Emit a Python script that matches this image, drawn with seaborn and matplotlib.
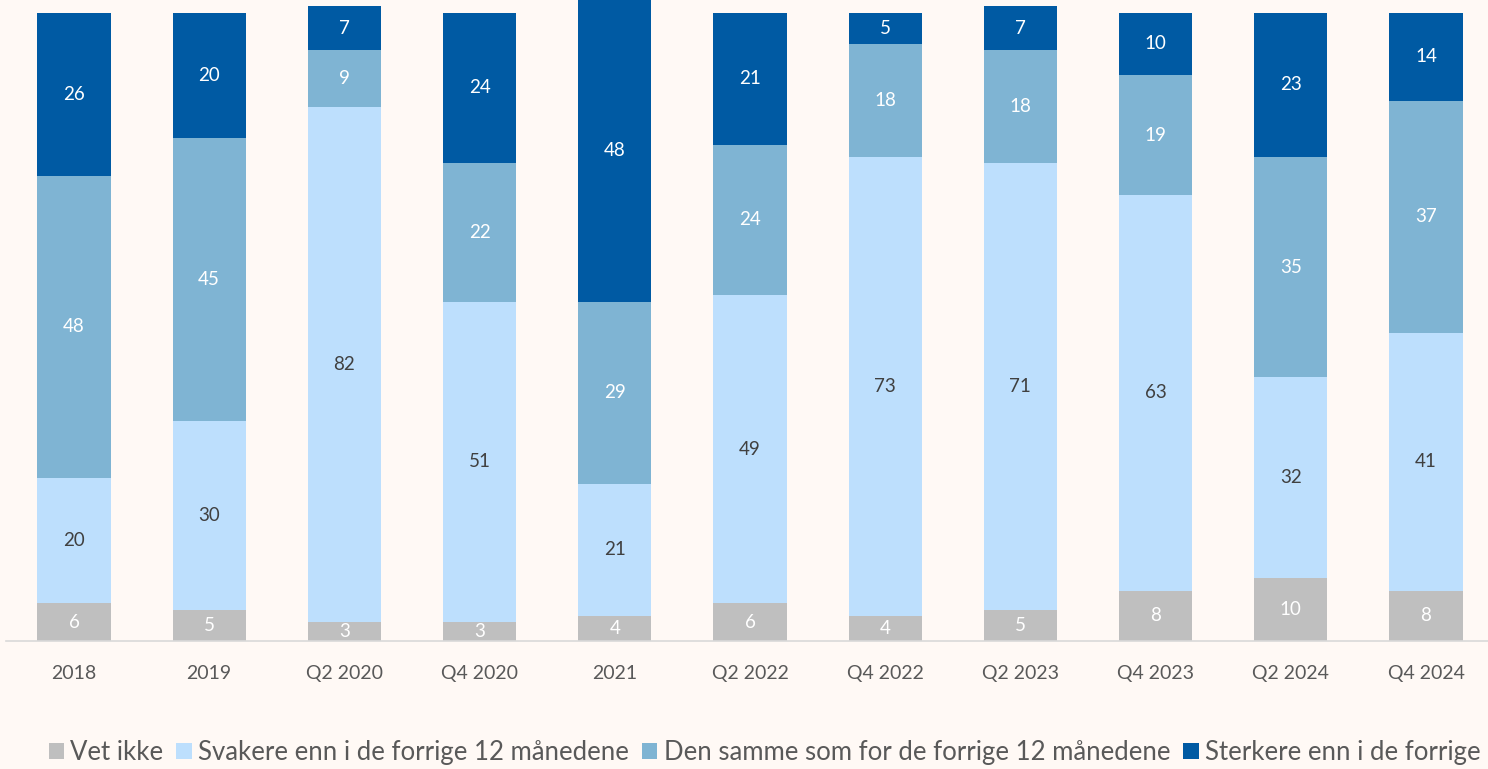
import pandas as pd
import matplotlib
matplotlib.use('Agg')
import matplotlib.pyplot as plt
import seaborn as sns
from matplotlib.patches import Patch

periods = ['2018', '2019', 'Q2 2020', 'Q4 2020', '2021', 'Q2 2022',
           'Q4 2022', 'Q2 2023', 'Q4 2023', 'Q2 2024', 'Q4 2024']
vet_ikke = [6, 5, 3, 3, 4, 6, 4, 5, 8, 10, 8]
svakere = [20, 30, 82, 51, 21, 49, 73, 71, 63, 32, 41]
samme = [48, 45, 9, 22, 29, 24, 18, 18, 19, 35, 37]
sterkere = [26, 20, 7, 24, 48, 21, 5, 7, 10, 23, 14]

# legend text as shown in the chart (the last one is cut short there)
series_names = ['Vet ikke', 'Svakere enn i de forrige 12 månedene',
                'Den samme som for de forrige 12 månedene',
                'Sterkere enn i de forrige']
colors = ['#BFBFBF', '#BDDFFD', '#7FB4D3', '#005AA3']
label_colors = ['white', '#404040', 'white', 'white']

sns.set_theme(style='white')
plt.rcParams['font.family'] = ['Lato', 'DejaVu Sans']

df = pd.DataFrame({'period': periods, series_names[0]: vet_ikke,
                   series_names[1]: svakere, series_names[2]: samme,
                   series_names[3]: sterkere})
cum = df[series_names].cumsum(axis=1)

bg = '#FFF9F5'
fig = plt.figure(figsize=(14.88, 7.69), dpi=100, facecolor=bg)
ax = fig.add_axes([6.4 / 1488, 128 / 769, 1487.2 / 1488, 641 / 769])
ax.set_facecolor(bg)

# stacked bars: draw cumulative totals from top layer down
for i in range(3, -1, -1):
    sns.barplot(x=df['period'], y=cum[series_names[i]], color=colors[i],
                width=0.54, saturation=1, linewidth=0, ax=ax)

# value labels in the middle of each segment
for i, name in enumerate(series_names):
    for j in range(len(periods)):
        top = cum[name][j]
        val = df[name][j]
        ax.text(j, top - val / 2, str(val), ha='center', va='center',
                fontsize=13.5, color=label_colors[i])

ax.set_ylim(0, 102)
ax.set_xlim(-0.5, 10.5)
ax.set_xlabel('')
ax.set_ylabel('')
ax.set_yticks([])
for s in ['top', 'right', 'left']:
    ax.spines[s].set_visible(False)
ax.spines['bottom'].set_color('#D9D9D9')
ax.spines['bottom'].set_linewidth(1.2)
ax.tick_params(axis='x', length=0, pad=17, labelsize=14, labelcolor='#595959')

handles = [Patch(facecolor=c, edgecolor='none') for c in colors]
fig.legend(handles, series_names, loc='center left', bbox_to_anchor=(0.024, 0.021),
           ncol=4, frameon=False, fontsize=18.5, handlelength=0.6, handleheight=0.6,
           handletextpad=0.25, columnspacing=0.5, labelcolor='#595959', borderpad=0)

fig.savefig('out.png', dpi=100, facecolor=bg)
